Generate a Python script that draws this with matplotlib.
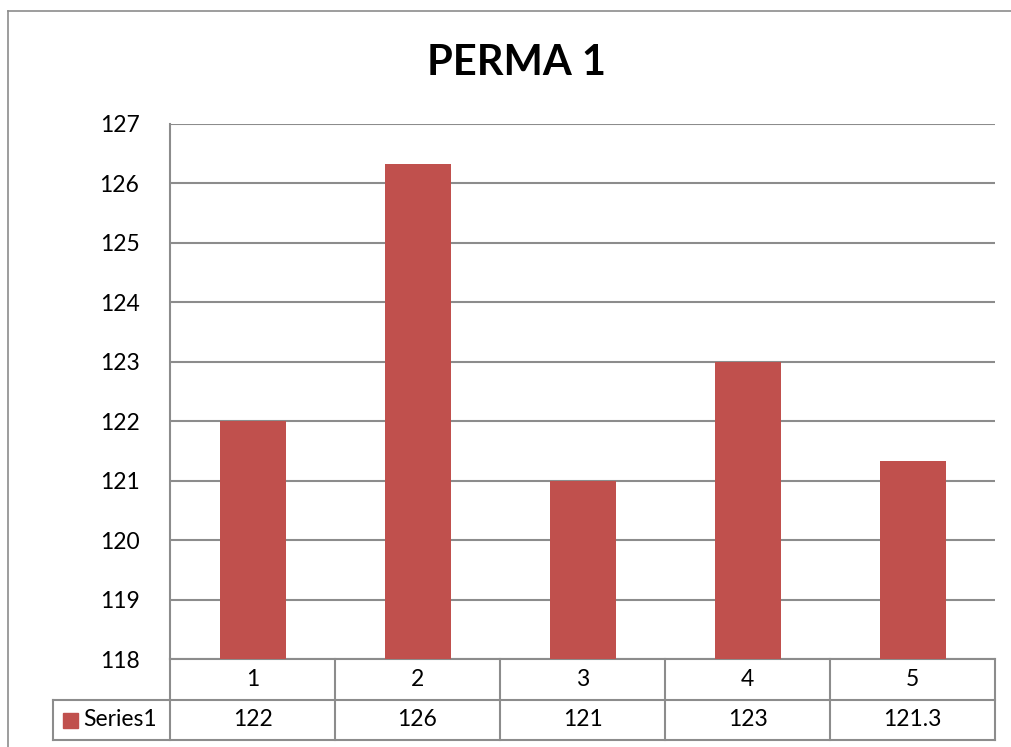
import matplotlib
matplotlib.use('Agg')
import matplotlib.pyplot as plt
import matplotlib.transforms as mtransforms
from matplotlib.patches import Rectangle
from matplotlib.lines import Line2D

plt.rcParams['font.family'] = ['Lato', 'DejaVu Sans']

CATEGORIES = ['1', '2', '3', '4', '5']
VALUES = [122, 126.33, 121, 123, 121.33]
TABLE_LABELS = ['122', '126', '121', '123', '121.3']
SERIES = 'Series1'
TITLE = 'PERMA 1'
BAR_C = '#C0504D'
GRID_C = '#8C8C8C'

W, H = 1011, 747
fig = plt.figure(figsize=(W / 100, H / 100), dpi=100)

# outer chart frame (cut off at right/bottom)
fig.add_artist(Line2D([8 / W, 8 / W], [0, 1 - 11 / H], transform=fig.transFigure,
                      color=GRID_C, lw=1.2))
fig.add_artist(Line2D([8 / W, 1], [1 - 11 / H, 1 - 11 / H], transform=fig.transFigure,
                      color=GRID_C, lw=1.2))

L, R, T, B = 170, 995, 124, 659
ax = fig.add_axes([L / W, 1 - B / H, (R - L) / W, (B - T) / H])
x = list(range(len(CATEGORIES)))
ax.bar(x, VALUES, width=0.4, color=BAR_C, zorder=3)
ax.set_xlim(-0.5, len(CATEGORIES) - 0.5)
ax.set_ylim(118, 127)
ax.set_yticks(range(118, 128))
ax.yaxis.grid(True, color=GRID_C, lw=1.5, zorder=0)
ax.tick_params(axis='y', length=0, labelsize=16.5, pad=22)
ax.tick_params(axis='x', bottom=False, labelbottom=False)
for s in ['top', 'right', 'bottom']:
    ax.spines[s].set_visible(False)
ax.spines['left'].set_color(GRID_C)
ax.spines['left'].set_linewidth(1.5)
for lab in ax.get_yticklabels():
    lab.set_horizontalalignment('right')

# data table below the plot area
tr = mtransforms.blended_transform_factory(ax.transData, ax.transAxes)
ph = B - T
r1 = -41 / ph
r2 = -81 / ph
kw = dict(transform=tr, color=GRID_C, lw=1.5, clip_on=False)
xl = -0.5 - (L - 53) / (R - L) * len(CATEGORIES)
ax.add_line(Line2D([-0.5, 4.5], [0, 0], **kw))
ax.add_line(Line2D([-0.5, 4.5], [r1, r1], **kw))
ax.add_line(Line2D([xl, -0.5], [r1, r1], **kw))
ax.add_line(Line2D([xl, 4.5], [r2, r2], **kw))
ax.add_line(Line2D([xl, xl], [r1, r2], **kw))
for i in range(len(CATEGORIES) + 1):
    ax.add_line(Line2D([i - 0.5, i - 0.5], [0, r2], **kw))
for i, (c, v) in enumerate(zip(CATEGORIES, TABLE_LABELS)):
    ax.text(i, r1 / 2, c, transform=tr, ha='center', va='center', fontsize=16.5)
    ax.text(i, (r1 + r2) / 2, v, transform=tr, ha='center', va='center', fontsize=16.5)

# legend key in the table
fig.add_artist(Rectangle((63 / W, 1 - 728 / H), 15 / W, 15 / H, transform=fig.transFigure,
                         color=BAR_C))
fig.text(83 / W, 1 - 720 / H, SERIES, ha='left', va='center', fontsize=16.5)

fig.text((427 + 606) / 2 / W, 1 - 63 / H, TITLE, ha='center', va='center',
         fontsize=30, fontweight='bold')

fig.savefig('out.png', dpi=100)
